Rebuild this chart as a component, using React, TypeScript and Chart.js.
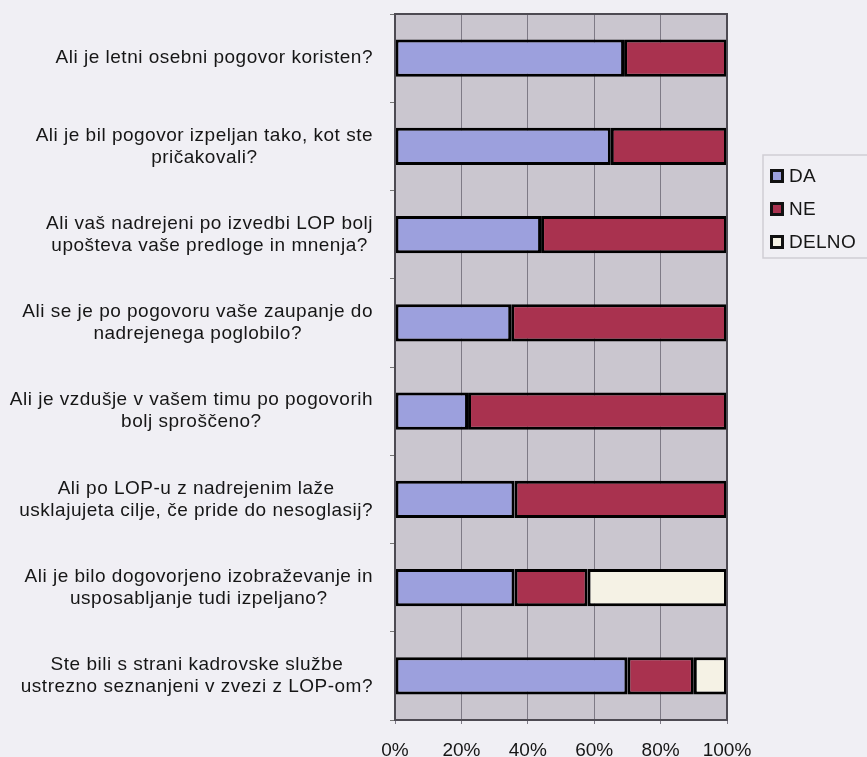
import { useEffect, useRef } from "react";
import { Chart, registerables } from "chart.js";

Chart.register(...registerables);

const categories: (string | string[])[] = [
  "Ali je letni osebni pogovor koristen?",
  ["Ali je bil pogovor izpeljan tako, kot ste", "pričakovali?"],
  ["Ali vaš nadrejeni po izvedbi LOP bolj", "upošteva vaše predloge in mnenja?"],
  ["Ali se je po pogovoru vaše zaupanje do", "nadrejenega poglobilo?"],
  ["Ali je vzdušje v vašem timu po pogovorih", "bolj sproščeno?"],
  ["Ali po LOP-u z nadrejenim laže", "usklajujeta cilje, če pride do nesoglasij?"],
  ["Ali je bilo dogovorjeno izobraževanje in", "usposabljanje tudi izpeljano?"],
  ["Ste bili s strani kadrovske službe", "ustrezno seznanjeni v zvezi z LOP-om?"],
];

const seriesNames = ["DA", "NE", "DELNO"];
const daValues = [69, 65, 44, 35, 22, 36, 36, 70];
const neValues = [31, 35, 56, 65, 78, 64, 22, 20];
const delnoValues = [0, 0, 0, 0, 0, 0, 42, 10];
const xTickStep = 20;
const xMin = 0;
const xMax = 100;

const colors = ["#9ca0dd", "#a9324f", "#f5f2e5"];
const PAGE_BG = "#f0eff4";
const PLOT_BG = "#cac6cf";
const FONT = '"Liberation Sans", Arial, sans-serif';

const decorPlugin = {
  id: "decor",
  beforeDraw(chart: any) {
    const { ctx, chartArea: a } = chart;
    ctx.save();
    ctx.fillStyle = PLOT_BG;
    ctx.fillRect(a.left, a.top, a.right - a.left, a.bottom - a.top);
    ctx.restore();
  },
  afterDraw(chart: any) {
    const { ctx, chartArea: a } = chart;
    // frame
    ctx.save();
    ctx.strokeStyle = "#4d4a52";
    ctx.lineWidth = 2;
    ctx.strokeRect(a.left, a.top, a.right - a.left, a.bottom - a.top);
    ctx.restore();

    // y labels: each block right aligned, lines centered within block
    const yScale = chart.scales.y;
    const labels = chart.data.labels as (string | string[])[];
    ctx.save();
    ctx.font = `19px ${FONT}`;
    (ctx as any).letterSpacing = "0.5px";
    ctx.fillStyle = "#161616";
    ctx.textAlign = "center";
    ctx.textBaseline = "middle";
    const right = yScale.right - 22;
    const lh = 22;
    labels.forEach((lab, i) => {
      const lines = Array.isArray(lab) ? lab : [lab];
      const w = Math.max(...lines.map((l) => ctx.measureText(l).width));
      const cx = right - w / 2;
      const cy = yScale.getPixelForTick(i);
      lines.forEach((l, j) => {
        ctx.fillText(l, cx, cy + (j - (lines.length - 1) / 2) * lh);
      });
    });
    ctx.restore();

    // legend
    const bx = a.right + 36;
    const by = a.top + 141;
    ctx.save();
    ctx.strokeStyle = "#cfced4";
    ctx.lineWidth = 1.5;
    ctx.strokeRect(bx, by, 200, 103);
    ctx.font = `19px ${FONT}`;
    (ctx as any).letterSpacing = "0.3px";
    ctx.textAlign = "left";
    ctx.textBaseline = "middle";
    chart.data.datasets.forEach((ds: any, i: number) => {
      const cy = by + 21 + i * 33;
      const sx = bx + 7;
      ctx.fillStyle = "#111";
      ctx.fillRect(sx, cy - 7, 14, 14);
      ctx.fillStyle = ds.backgroundColor;
      ctx.fillRect(sx + 3, cy - 4, 8, 8);
      ctx.fillStyle = "#161616";
      ctx.fillText(ds.label, sx + 19, cy + 1);
    });
    ctx.restore();
  },
};

export default function App() {
  const ref = useRef<HTMLCanvasElement | null>(null);
  useEffect(() => {
    if (!ref.current) return;
    document.body.style.background = PAGE_BG;
    const values = [daValues, neValues, delnoValues];
    const chart = new Chart(ref.current, {
      type: "bar",
      data: {
        labels: categories as any,
        datasets: seriesNames.map((name, i) => ({
          label: name,
          data: values[i],
          backgroundColor: colors[i],
          borderColor: "#000000",
          borderWidth: 3,
          borderSkipped: false,
          barPercentage: 0.42,
          categoryPercentage: 1,
        })),
      },
      options: {
        indexAxis: "y",
        animation: false,
        responsive: true,
        maintainAspectRatio: false,
        layout: { padding: { top: 14, right: 140, left: 0, bottom: 0 } },
        plugins: {
          legend: { display: false },
          tooltip: { enabled: false },
        },
        scales: {
          x: {
            type: "linear",
            stacked: true,
            min: xMin,
            max: xMax,
            afterFit: (s: any) => {
              s.height = 37;
            },
            ticks: {
              stepSize: xTickStep,
              callback: (v: any) => `${v}%`,
              font: { size: 19, family: FONT },
              color: "#161616",
              padding: 15,
              maxRotation: 0,
            },
            grid: {
              color: "#7e7a86",
              lineWidth: 1,
              tickLength: 4,
              drawTicks: true,
            },
            border: { display: false },
          },
          y: {
            type: "category",
            stacked: true,
            afterFit: (s: any) => {
              s.width = 395;
            },
            ticks: { display: false },
            grid: {
              drawOnChartArea: false,
              drawTicks: true,
              tickLength: 5,
              color: "#777",
              offset: true,
            },
            border: { display: false },
          },
        },
      },
      plugins: [decorPlugin],
    });
    return () => chart.destroy();
  }, []);
  return (
    <div
      style={{
        position: "fixed",
        left: 0,
        top: 0,
        width: 867,
        height: 757,
        background: PAGE_BG,
      }}
    >
      <canvas ref={ref} />
    </div>
  );
}
